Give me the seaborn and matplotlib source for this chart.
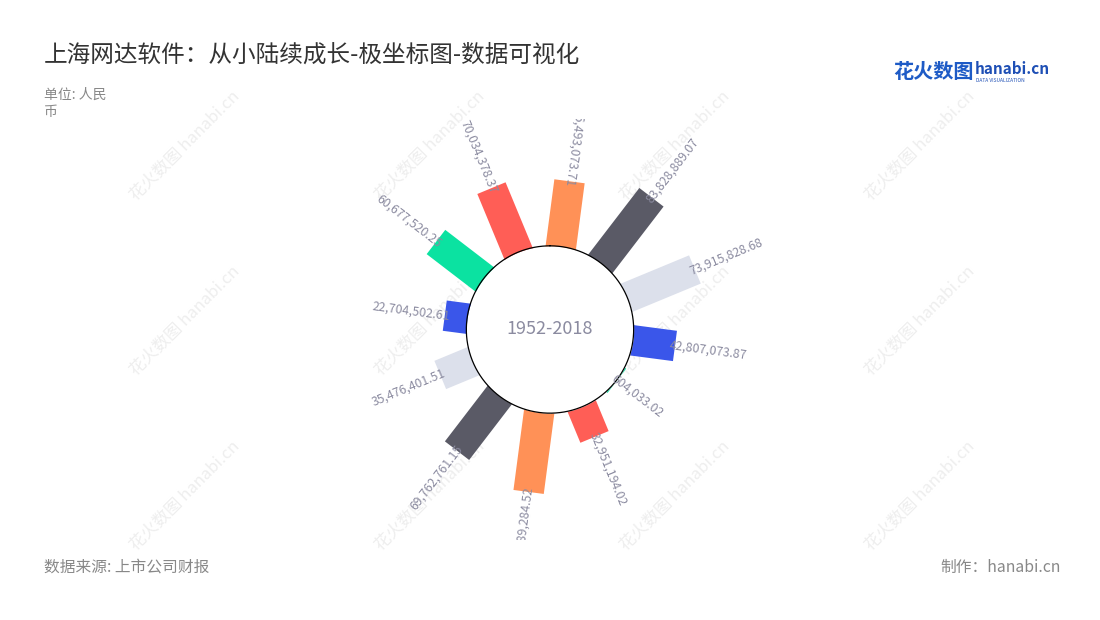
import numpy as np
import matplotlib
matplotlib.use('Agg')
import matplotlib.pyplot as plt
import seaborn as sns
from matplotlib.patches import Rectangle

# ---------------- data (clockwise from the top) ----------------
values = [66493073.71, 83828889.07, 73915828.68, 42807073.87, 604033.02, 32951194.02,
          80989284.52, 69762761.15, 35476401.51, 22704502.61, 60677520.25, 70034378.37]
base_colors = ['#FF9157', '#5A5A66', '#DCE0EB', '#3A56EA', '#0BE2A1', '#FF5E56']
center_label = '1952-2018'
title = '上海网达软件：从小陆续成长-极坐标图-数据可视化'
unit_text = '单位: 人民\n币'
source_text = '数据来源: 上市公司财报'
credit_text = '制作：hanabi.cn'

sns.set_theme(style='white')
plt.rcParams['font.family'] = ['Noto Sans CJK SC', 'DejaVu Sans']

W, H = 1100, 620
fig = plt.figure(figsize=(11, 6.2), dpi=100)
fig.patch.set_facecolor('white')

# faint watermarks
for wx in [185, 430, 675, 920]:
    for wy in [145, 320, 495]:
        fig.text(wx / W, 1 - wy / H, '花火数图 hanabi.cn', rotation=45, ha='center', va='center',
                 fontsize=12, color='#EEEEEE', zorder=-5)

palette = sns.color_palette(base_colors)
n = len(values)
colors = [palette[i % len(palette)] for i in range(n)]

cx, cy, R = 550, 329.5, 210
ax = fig.add_axes([(cx - R) / W, 1 - (cy + R) / H, 2 * R / W, 2 * R / H], projection='polar')
ax.set_theta_zero_location('N')
ax.set_theta_direction(-1)
HOLE, RMAX = 84.5, 127.6
ax.set_ylim(-HOLE, RMAX)
ax.axis('off')

deg = 7.5 + 30 * np.arange(n)
theta = np.deg2rad(deg)
r = np.array(values) / 1e6

ax.vlines(theta, -10, r, colors=colors, linewidth=22, capstyle='butt', zorder=2)

# center hole
th = np.linspace(0, 2 * np.pi, 500)
ax.fill_between(th, -HOLE, 0, color='white', lw=0, zorder=3)
ax.plot(th, np.zeros_like(th), color='black', lw=0.9, zorder=4)
ax.text(0, -HOLE, center_label, ha='center', va='center', fontsize=13, color='#8B8BA0', zorder=6)

clip_rect = Rectangle((0, 1 - 540 / H), 1, (540 - 119) / H, transform=fig.transFigure)
for t_i, r_i, v, d in zip(theta, r, values, deg):
    out = 90 - d
    if d < 15 or d > 180:
        rot, ha = out + 180, 'right'
    else:
        rot, ha = out, 'left'
    rot = ((rot + 180) % 360) - 180
    t = ax.text(t_i, r_i - 5, f'{v:,.2f}', rotation=rot, rotation_mode='anchor', ha=ha,
                va='center', fontsize=8.8, color='#8B8BA0', zorder=6, clip_on=True)
    t.set_clip_path(clip_rect)

# texts
fig.text(44 / W, 1 - 55 / H, title, fontsize=17, color='#333333', ha='left', va='center')
fig.text(44 / W, 1 - 88 / H, unit_text, fontsize=10, color='#888888', ha='left', va='top',
         linespacing=1.3)
fig.text(44 / W, 1 - 567 / H, source_text, fontsize=11.3, color='#888888', ha='left', va='center')
fig.text(1061 / W, 1 - 567 / H, credit_text, fontsize=11.3, color='#888888', ha='right', va='center')

# logo
fig.text(893 / W, 1 - 72 / H, '花火数图', fontsize=14.5, fontweight='bold', color='#1E5BC6',
         ha='left', va='center')
fig.text(975 / W, 1 - 69 / H, 'hanabi.cn', fontsize=11, fontweight='bold', color='#1E4FB5',
         ha='left', va='center')
fig.text(976 / W, 1 - 80 / H, 'DATA VISUALIZATION', fontsize=3.5, color='#1E4FB5',
         ha='left', va='center')

fig.savefig('out.png', dpi=100, facecolor='white')
